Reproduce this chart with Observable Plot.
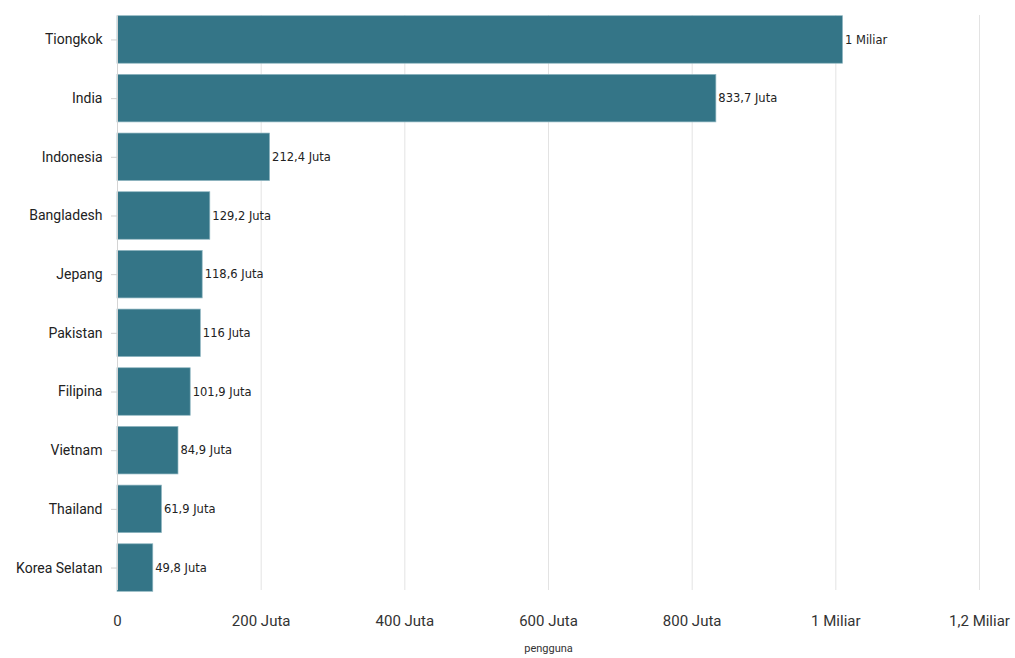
<!DOCTYPE html>
<html><head><meta charset="utf-8">
<script src="https://cdn.jsdelivr.net/npm/d3@7"></script>
<script src="https://cdn.jsdelivr.net/npm/@observablehq/plot@0.6"></script>
<style>
body{margin:0;background:#fff;}
#chart svg{display:block;}
</style>
</head><body><div id="chart"></div>
<script>
const countries = ["Tiongkok","India","Indonesia","Bangladesh","Jepang","Pakistan","Filipina","Vietnam","Thailand","Korea Selatan"];
const users = [1010e6, 833.7e6, 212.4e6, 129.2e6, 118.6e6, 116e6, 101.9e6, 84.9e6, 61.9e6, 49.8e6];
const valueLabels = ["1 Miliar","833,7 Juta","212,4 Juta","129,2 Juta","118,6 Juta","116 Juta","101,9 Juta","84,9 Juta","61,9 Juta","49,8 Juta"];
const xTicks = [0, 200e6, 400e6, 600e6, 800e6, 1000e6, 1200e6];
const xTickLabels = ["0","200 Juta","400 Juta","600 Juta","800 Juta","1 Miliar","1,2 Miliar"];
const xLabel = "pengguna";

const data = countries.map((c,i)=>({country:c, value:users[i], label:valueLabels[i]}));

const chart = Plot.plot({
  width: 1015, height: 658,
  marginLeft: 117, marginRight: 36, marginTop: 11, marginBottom: 62,
  style: {fontFamily: "Roboto, sans-serif", fontSize: "14px", color: "#333", background: "#fff"},
  x: {domain: [0, 1200e6], ticks: xTicks, tickFormat: d => xTickLabels[xTicks.indexOf(d)], label: null},
  y: {domain: countries, paddingInner: 0.19, paddingOuter: 0.08, round: false, label: null},
  marks: [
    Plot.gridX(xTicks, {stroke: "#e3e3e3", strokeOpacity: 1, insetTop: 4, insetBottom: 6}),
    Plot.barX(data, {y: "country", x: "value", fill: "#347587", stroke: "#8fb6c1", strokeWidth: 0.7}),
    Plot.ruleX([0], {stroke: "#d4d4d4", insetTop: 4, insetBottom: 6}),
    Plot.text(data, {y: "country", x: "value", text: "label", textAnchor: "start", dx: 2, fontFamily: "DejaVu Sans, Verdana, sans-serif", fontSize: 11.5, fill: "#222"}),
    Plot.axisY({tickSize: 6, tickPadding: 9, stroke: "#d0d0d0", fontSize: 14, fill: "#222"}),
    Plot.axisX({ticks: xTicks, tickFormat: d => xTickLabels[xTicks.indexOf(d)], tickSize: 0, tickPadding: 19, fontSize: 15, fill: "#333", label: null}),
    Plot.text([xLabel], {frameAnchor: "bottom", dy: 55, fontSize: 11, fill: "#333", text: d => d})
  ]
});
document.getElementById("chart").append(chart);
</script>
</body></html>
